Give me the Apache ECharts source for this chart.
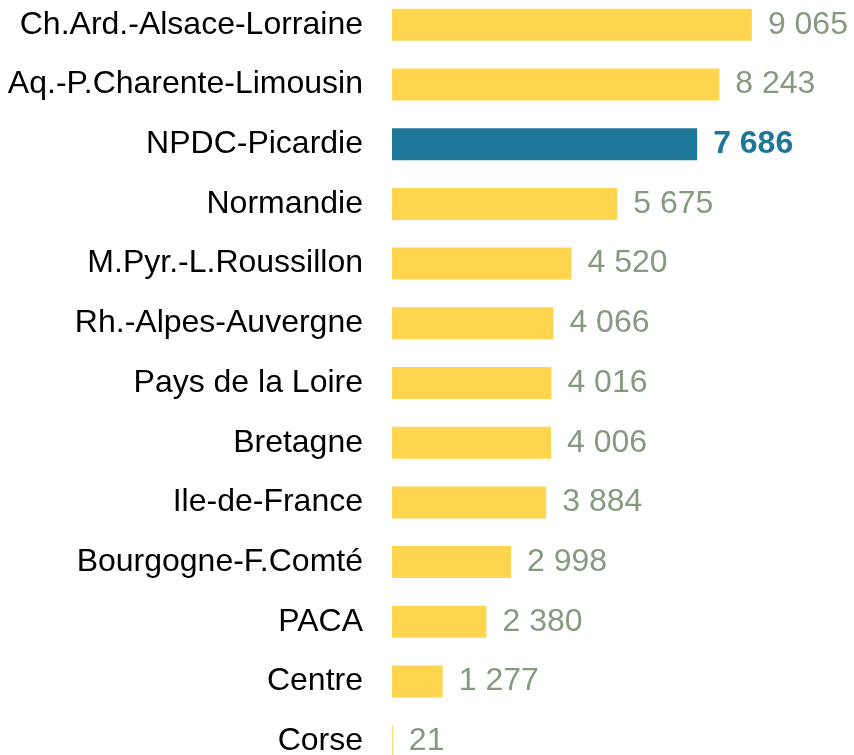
<!DOCTYPE html>
<html>
<head>
<meta charset="utf-8">
<script src="https://cdn.jsdelivr.net/npm/echarts@6/dist/echarts.min.js"></script>
<style>
  html, body { margin: 0; padding: 0; background: #fff; }
  #container { width: 854px; height: 755px; }
</style>
</head>
<body>
<div id="container"></div>
<script>
var regions = ['Ch.Ard.-Alsace-Lorraine', 'Aq.-P.Charente-Limousin', 'NPDC-Picardie', 'Normandie',
    'M.Pyr.-L.Roussillon', 'Rh.-Alpes-Auvergne', 'Pays de la Loire', 'Bretagne', 'Ile-de-France',
    'Bourgogne-F.Comté', 'PACA', 'Centre', 'Corse'];
var valeurs = [9065, 8243, 7686, 5675, 4520, 4066, 4016, 4006, 3884, 2998, 2380, 1277, 21];
var highlight = 'NPDC-Picardie';

var chart = echarts.init(document.getElementById('container'), null, { renderer: 'canvas' });

function fmt(v) {
    return String(v).replace(/\B(?=(\d{3})+(?!\d))/g, ' ');
}

var option = {
    animation: false,
    grid: { left: 392, right: 65, top: -5, height: 776, outerBoundsMode: 'none', containLabel: false },
    xAxis: {
        type: 'value',
        min: 0,
        max: 10000,
        show: false
    },
    yAxis: {
        type: 'category',
        data: regions,
        inverse: true,
        axisLine: { show: false },
        axisTick: { show: false },
        axisLabel: {
            color: '#000',
            fontFamily: 'Liberation Sans, Arial, sans-serif',
            fontSize: 32,
            margin: 29
        }
    },
    series: [{
        type: 'bar',
        barWidth: 32,
        data: valeurs.map(function (v, i) {
            var hl = regions[i] === highlight;
            return {
                value: v,
                itemStyle: { color: hl ? '#1C7799' : '#FFD54F' },
                label: hl ? { color: '#1C7799', fontWeight: 'bold' } : undefined
            };
        }),
        label: {
            show: true,
            position: 'right',
            distance: 16,
            color: '#869A7F',
            fontFamily: 'Liberation Sans, Arial, sans-serif',
            fontSize: 32,
            formatter: function (p) { return fmt(p.value); }
        }
    }]
};
chart.setOption(option);
</script>
</body>
</html>
